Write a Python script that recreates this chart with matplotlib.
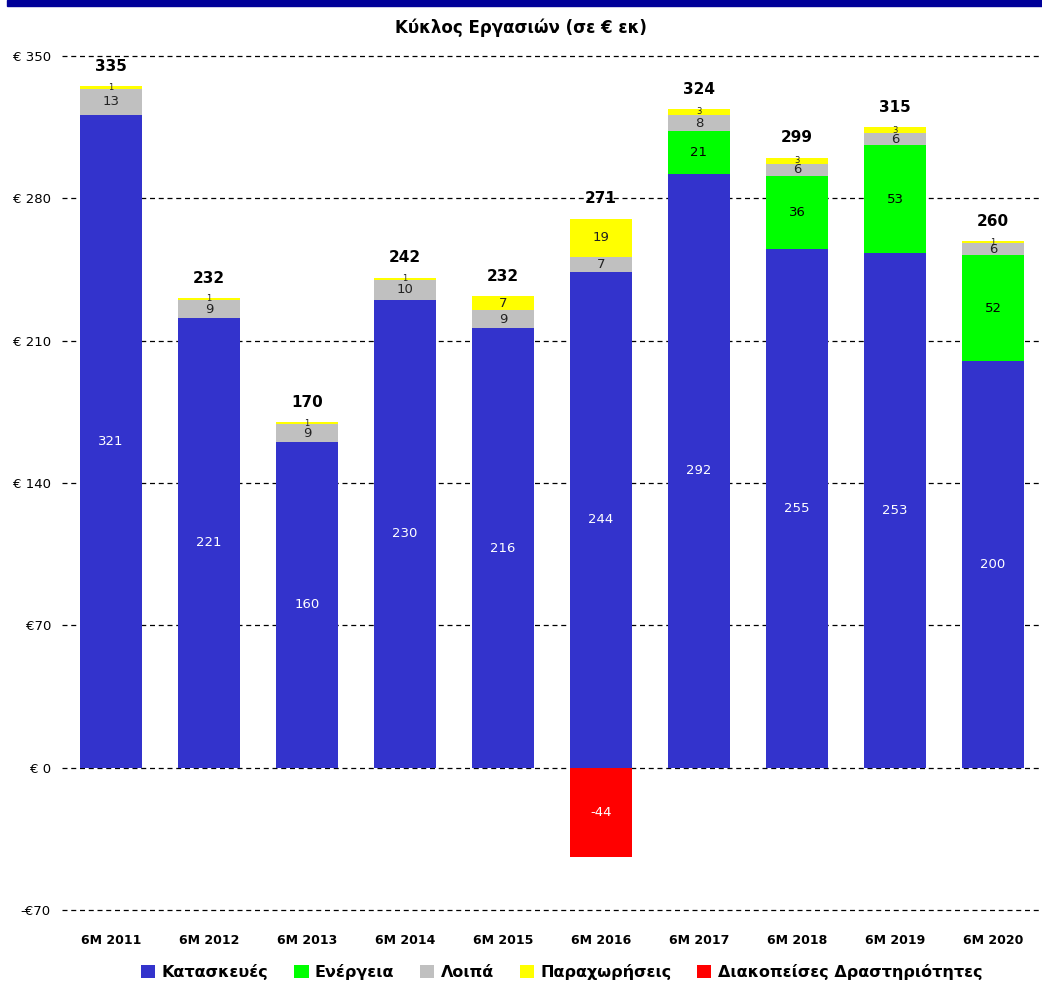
import numpy as np
import matplotlib.pyplot as plt
from matplotlib.patches import Rectangle

plt.rcParams['font.family'] = ['DejaVu Sans']

periods = ['6M 2011', '6M 2012', '6M 2013', '6M 2014', '6M 2015',
           '6M 2016', '6M 2017', '6M 2018', '6M 2019', '6M 2020']
kataskeves = [321, 221, 160, 230, 216, 244, 292, 255, 253, 200]
energeia = [0, 0, 0, 0, 0, 0, 21, 36, 53, 52]
loipa = [13, 9, 9, 10, 9, 7, 8, 6, 6, 6]
paraxoriseis = [1, 1, 1, 1, 7, 19, 3, 3, 3, 1]
diakopeises = [0, 0, 0, 0, 0, -44, 0, 0, 0, 0]
totals = [335, 232, 170, 242, 232, 271, 324, 299, 315, 260]

yticks = [-70, 0, 70, 140, 210, 280, 350]
ytick_labels = ['-€70', '€ 0', '€70', '€ 140', '€ 210', '€ 280', '€ 350']

series = [
    ('Κατασκευές', kataskeves, '#3333CC', 'white'),
    ('Ενέργεια', energeia, '#00FF00', 'black'),
    ('Λοιπά', loipa, '#C0C0C0', '#222222'),
    ('Παραχωρήσεις', paraxoriseis, '#FFFF00', '#222222'),
    ('Διακοπείσες Δραστηριότητες', diakopeises, '#FF0000', 'white'),
]

fig = plt.figure(figsize=(10.42, 9.84), dpi=100)
fig.patches.append(Rectangle((0.007, 0.994), 0.993, 0.006, transform=fig.transFigure,
                             color='#000099', zorder=0))
fig.text(0.5, 0.972, 'Κύκλος Εργασιών (σε € εκ)', ha='center', va='center',
         fontsize=12, fontweight='bold')

ax = fig.add_axes([0.0595, 0.0752, 0.9405, 0.8679])
x = np.arange(len(periods))
width = 0.63
bottom = np.zeros(len(periods))
for name, vals, col, tcol in series:
    vals = np.array(vals, dtype=float)
    if name.startswith('Διακοπείσες'):
        ax.bar(x, vals, width, bottom=0, color=col, label=name, zorder=3)
        for xi, v in zip(x, vals):
            if v != 0:
                ax.text(xi, v / 2, '%d' % v, ha='center', va='center',
                        color=tcol, fontsize=9.5, zorder=4)
        continue
    ax.bar(x, vals, width, bottom=bottom, color=col, label=name, zorder=3)
    for xi, v, b in zip(x, vals, bottom):
        if v == 0:
            continue
        fs = 9.5 if v >= 5 else 6
        ax.text(xi, b + v / 2, '%d' % v, ha='center', va='center',
                color=tcol, fontsize=fs, zorder=4)
    bottom += vals

for xi, t, top in zip(x, totals, bottom):
    ax.text(xi, top + 6, '%d' % t, ha='center', va='bottom',
            fontsize=11, fontweight='bold', zorder=4)

ax.set_xlim(-0.5, len(periods) - 0.5)
ax.set_ylim(-70, 350)
ax.set_yticks(yticks)
ax.set_yticklabels(ytick_labels, fontsize=9.5)
ax.set_xticks(x)
ax.set_xticklabels(periods, fontsize=9, fontweight='bold')
ax.tick_params(axis='both', length=0)
ax.tick_params(axis='x', pad=17)
ax.tick_params(axis='y', pad=8)
for s in ax.spines.values():
    s.set_visible(False)
ax.yaxis.grid(True, linestyle=(0, (4, 3)), color='black', linewidth=0.9, zorder=1)
ax.set_axisbelow(True)
for gl in ax.get_ygridlines():
    gl.set_clip_on(False)

ax.legend(loc='center', bbox_to_anchor=(0.51, -0.073), ncol=5, frameon=False,
          handlelength=0.9, handleheight=0.9, handletextpad=0.4, columnspacing=1.6,
          prop={'size': 11.5, 'weight': 'bold'})

fig.savefig('out.png', dpi=100)
